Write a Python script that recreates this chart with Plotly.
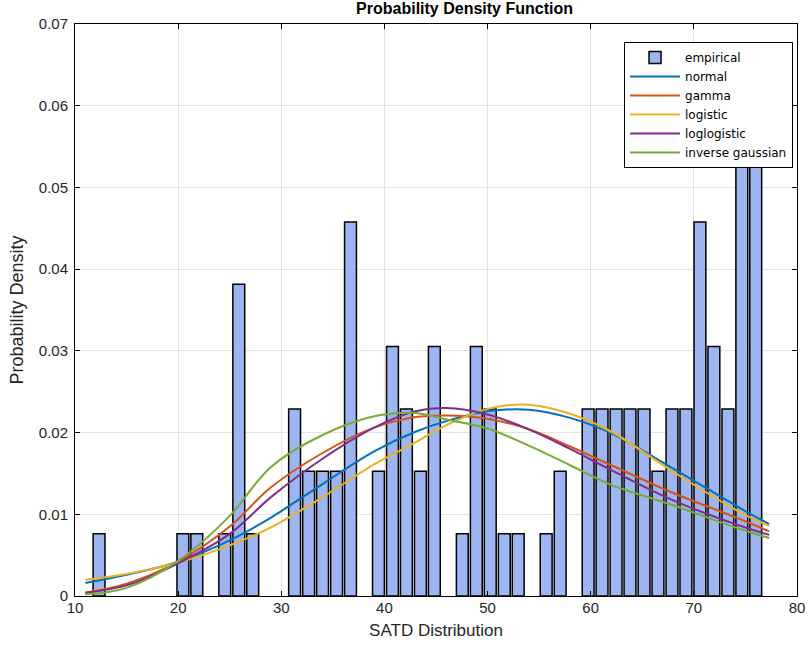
import plotly.graph_objects as go

# Histogram (empirical) – bin centres and densities
bin_centers = [12.33, 20.46, 21.81, 24.52, 25.88, 27.23, 31.29, 32.65, 34.00, 35.36,
               36.71, 39.42, 40.78, 42.13, 43.49, 44.84, 47.55, 48.91, 50.26, 51.62,
               52.97, 55.68, 57.04, 59.75, 61.10, 62.46, 63.81, 65.17, 66.52, 67.88,
               69.23, 70.59, 71.94, 73.30, 74.65, 76.00]
bin_density = [0.00763, 0.00763, 0.00763, 0.00763, 0.03815, 0.00763, 0.02289, 0.01526, 0.01526, 0.01526,
               0.04578, 0.01526, 0.03052, 0.02289, 0.01526, 0.03052, 0.00763, 0.03052, 0.02289, 0.00763,
               0.00763, 0.00763, 0.01526, 0.02289, 0.02289, 0.02289, 0.02289, 0.02289, 0.01526, 0.02289,
               0.02289, 0.04578, 0.03052, 0.02289, 0.05341, 0.05341]
bar_width = 1.15

# Fitted pdf curves
x_fit = [11, 15, 20, 25, 29, 34, 39, 43, 46, 50, 54, 58, 62, 68, 74.7, 77.3]
normal_pdf = [0.0016, 0.0026, 0.0042, 0.0068, 0.0096, 0.0137, 0.0177, 0.0201, 0.0214, 0.0226,
              0.0228, 0.0218, 0.0199, 0.0156, 0.0106, 0.0088]
gamma_pdf = [0.0004, 0.0015, 0.0042, 0.0085, 0.0133, 0.0175, 0.0206, 0.0219, 0.0221, 0.0217,
             0.0204, 0.0183, 0.0160, 0.0126, 0.0093, 0.0079]
logistic_pdf = [0.0020, 0.0027, 0.0041, 0.0062, 0.0084, 0.0121, 0.0161, 0.0188, 0.0209, 0.0229,
                0.0234, 0.0223, 0.0201, 0.0152, 0.0101, 0.0086]
loglogistic_pdf = [0.0004, 0.0013, 0.0040, 0.0076, 0.0121, 0.0168, 0.0206, 0.0226, 0.0230, 0.0222,
                   0.0204, 0.0180, 0.0154, 0.0117, 0.0085, 0.0075]
invgauss_pdf = [0.0002, 0.0010, 0.0043, 0.0098, 0.0158, 0.0197, 0.0220, 0.0224, 0.0216, 0.0205,
                0.0184, 0.0160, 0.0136, 0.0111, 0.0081, 0.0071]

x_ticks = [10, 20, 30, 40, 50, 60, 70, 80]
y_ticks = [0, 0.01, 0.02, 0.03, 0.04, 0.05, 0.06, 0.07]
y_tick_text = ["0", "0.01", "0.02", "0.03", "0.04", "0.05", "0.06", "0.07"]

fig = go.Figure()
fig.add_trace(go.Bar(x=bin_centers, y=bin_density, width=bar_width, name="empirical",
                     marker=dict(color="#9DB6F2", line=dict(color="black", width=1.5))))

curves = [("normal", normal_pdf, "#0072BD"), ("gamma", gamma_pdf, "#D95319"),
          ("logistic", logistic_pdf, "#EDB120"), ("loglogistic", loglogistic_pdf, "#7E2F8E"),
          ("inverse gaussian", invgauss_pdf, "#77AC30")]
for name, ys, col in curves:
    fig.add_trace(go.Scatter(x=x_fit, y=ys, mode="lines", name=name,
                             line=dict(color=col, width=2, shape="spline", smoothing=1.0)))

font_family = "Liberation Sans, Arial, sans-serif"
fig.update_layout(
    width=808, height=653,
    margin=dict(l=75, r=11, t=24, b=57),
    paper_bgcolor="white", plot_bgcolor="white",
    barmode="overlay",
    font=dict(family=font_family, size=15, color="#262626"),
    title=dict(text="<b>Probability Density Function</b>", x=0.5395, xanchor="center",
               xref="paper", y=0.996, yanchor="top", font=dict(size=16, color="black")),
    showlegend=True,
    legend=dict(x=0.9945, xanchor="right", y=0.9685, yanchor="top",
                bgcolor="white", bordercolor="black", borderwidth=1,
                font=dict(family="DejaVu Sans, sans-serif", size=12, color="black"),
                tracegroupgap=0, itemwidth=50),
    xaxis=dict(range=[10, 80], tickvals=x_ticks, showgrid=True, gridcolor="#E3E3E3",
               showline=True, linecolor="black", linewidth=1, mirror="allticks",
               ticks="inside", ticklen=5, tickcolor="black", zeroline=False, automargin=False,
               ticklabelstandoff=-2,
               title=dict(text="SATD Distribution", font=dict(size=17), standoff=9)),
    yaxis=dict(range=[0, 0.07], tickvals=y_ticks, ticktext=y_tick_text, showgrid=True,
               gridcolor="#E3E3E3", showline=True, linecolor="black", linewidth=1,
               mirror="allticks", ticks="inside", ticklen=5, tickcolor="black", zeroline=False,
               automargin=False, ticklabelstandoff=3,
               title=dict(text="Probability Density", font=dict(size=18), standoff=10)),
)

fig.write_html("out.html")
